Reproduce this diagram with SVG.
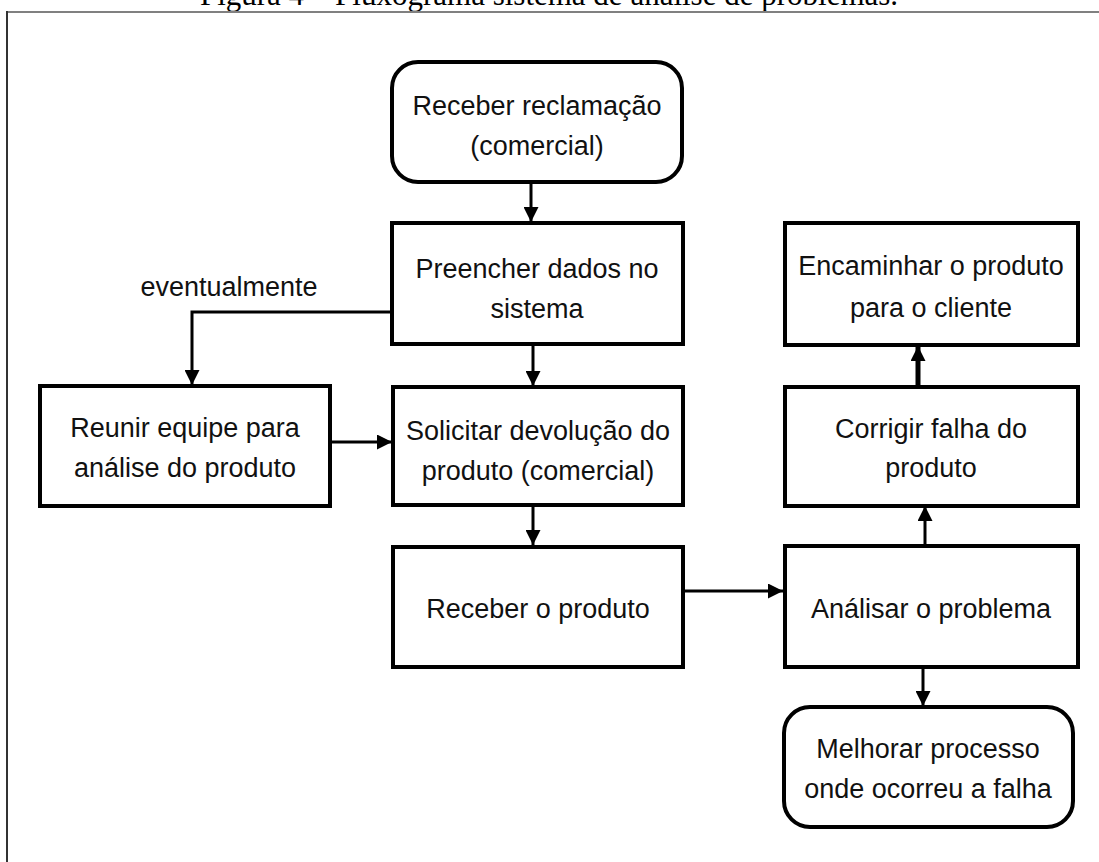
<svg xmlns="http://www.w3.org/2000/svg" width="1099" height="862" viewBox="0 0 1099 862">
<style>
.box{fill:#fff;stroke:#000;stroke-width:4}
.lbl{font-family:"Liberation Sans",Arial,sans-serif;font-size:27px;fill:#111;text-anchor:middle}
.con{fill:none;stroke:#000;stroke-width:3}
.title{font-family:"Liberation Serif","Times New Roman",serif;font-size:31px;fill:#000;text-anchor:middle}
</style>
<defs>
<marker id="ah" viewBox="0 0 10 10" refX="10" refY="5" markerWidth="15" markerHeight="15" markerUnits="userSpaceOnUse" orient="auto">
<path d="M0,0 L10,5 L0,10 Z" fill="#000"/>
</marker>
</defs>
<rect width="1099" height="862" fill="#fff"/>
<text class="title" x="549" y="5">Figura 4 – Fluxograma sistema de análise de problemas.</text>
<g id="frame">
<line x1="6" y1="12" x2="1099" y2="12" stroke="#808080" stroke-width="2"/>
<line x1="7" y1="11" x2="7" y2="862" stroke="#333" stroke-width="2"/>
</g>
<g id="connectors">
<line class="con" x1="531" y1="182" x2="531" y2="222" marker-end="url(#ah)"/>
<line class="con" x1="533" y1="344" x2="533" y2="386" marker-end="url(#ah)"/>
<line class="con" x1="533" y1="505" x2="533" y2="545" marker-end="url(#ah)"/>
<polyline class="con" points="392,312 192,312 192,385" marker-end="url(#ah)"/>
<line class="con" x1="330" y1="442" x2="392" y2="442" marker-end="url(#ah)"/>
<line class="con" x1="683" y1="591" x2="783" y2="591" marker-end="url(#ah)"/>
<line class="con" x1="925" y1="546" x2="925" y2="506" marker-end="url(#ah)"/>
<line x1="918" y1="387" x2="918" y2="346" stroke="#000" stroke-width="5" marker-end="url(#ah)" fill="none"/>
<line class="con" x1="923" y1="667" x2="923" y2="706" marker-end="url(#ah)"/>
<text class="lbl" x="229" y="296">eventualmente</text>
</g>
<g id="n1">
<rect class="box" x="392" y="62" width="290" height="120" rx="26"/>
<text class="lbl" x="537" y="115">Receber reclamação</text>
<text class="lbl" x="537" y="155">(comercial)</text>
</g>
<g id="n2">
<rect class="box" x="392" y="223" width="291" height="121"/>
<text class="lbl" x="537" y="278">Preencher dados no</text>
<text class="lbl" x="537" y="318">sistema</text>
</g>
<g id="n3">
<rect class="box" x="40" y="386" width="290" height="120"/>
<text class="lbl" x="185" y="437">Reunir equipe para</text>
<text class="lbl" x="185" y="477">análise do produto</text>
</g>
<g id="n4">
<rect class="box" x="393" y="387" width="290" height="118"/>
<text class="lbl" x="538" y="440">Solicitar devolução do</text>
<text class="lbl" x="538" y="480">produto (comercial)</text>
</g>
<g id="n5">
<rect class="box" x="393" y="547" width="290" height="120"/>
<text class="lbl" x="538" y="618">Receber o produto</text>
</g>
<g id="n6">
<rect class="box" x="785" y="223" width="293" height="122"/>
<text class="lbl" x="931" y="275">Encaminhar o produto</text>
<text class="lbl" x="931" y="317">para o cliente</text>
</g>
<g id="n7">
<rect class="box" x="785" y="387" width="293" height="119"/>
<text class="lbl" x="931" y="438">Corrigir falha do</text>
<text class="lbl" x="931" y="477">produto</text>
</g>
<g id="n8">
<rect class="box" x="785" y="546" width="293" height="121"/>
<text class="lbl" x="931" y="618">Análisar o problema</text>
</g>
<g id="n9">
<rect class="box" x="784" y="707" width="289" height="120" rx="26"/>
<text class="lbl" x="928" y="758">Melhorar processo</text>
<text class="lbl" x="928" y="798">onde ocorreu a falha</text>
</g>
</svg>
